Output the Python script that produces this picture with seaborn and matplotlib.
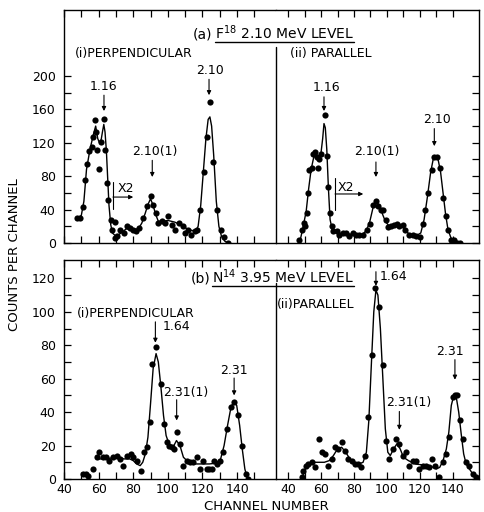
"""
plot.py - gamma-ray spectra of the F18 2.10 MeV and N14 3.95 MeV levels,
perpendicular and parallel geometry, redrawn with seaborn.
"""

import matplotlib
matplotlib.use("Agg")  # non-interactive backend
import matplotlib.pyplot as plt
import matplotlib.ticker as ticker
import seaborn as sns

# ── Data: (a) F18 2.10 MeV level ─────────────────────────────────────────────

F18_PERP_CH = [47.7, 49, 50.8, 52.3, 53.5, 54.6, 56, 57, 58, 58.5, 59.3, 60.4, 61.5, 63.1,
               63.8, 65, 65.6, 67, 68, 69.3, 69.3, 70.6, 72.4, 74.7, 76.2, 78.2, 80, 81.6,
               83.5, 85.8, 87.8, 90.1, 91.6, 93.2, 94.5, 96.5, 98.4, 100.3, 102.2, 104.1,
               106.7, 108.6, 110, 111.8, 113.2, 115.7, 117, 118.6, 120.9, 122.5, 124.4,
               126.3, 128.3, 130.6, 132.5, 134.6]
F18_PERP_COUNTS = [30, 30, 43, 76, 95, 110, 115, 127, 147, 133, 111, 89, 121, 149,
                   111, 72, 51, 27, 16, 25, 6, 8, 16, 12, 20, 18, 16, 14,
                   18, 30, 44, 56, 46, 36, 24, 26, 24, 32, 22, 16,
                   24, 20, 12, 16, 10, 14, 16, 40, 85, 127, 169,
                   97, 40, 16, 7, 0]
F18_PERP_FIT_CH = [48, 50, 51.5, 53, 55, 57, 58.3, 59.5, 60.5, 61.5, 62.3, 63, 63.7, 64.5,
                   65.3, 66, 67, 68, 70, 73, 76, 80, 83, 85, 87, 88.5, 90, 91.5, 93, 94.5,
                   97, 100, 104, 108, 112, 116, 117.5, 119, 120.5, 122, 123.3, 124.3, 125.3,
                   126.5, 128, 129.5, 131, 133, 135]
F18_PERP_FIT = [30, 33, 50, 88, 112, 130, 140, 125, 120, 124, 134, 142, 133, 110,
                75, 45, 22, 12, 8, 12, 17, 16, 17, 24, 36, 46, 53, 45, 34, 26,
                26, 27, 25, 21, 16, 14, 20, 45, 85, 125, 148, 151, 140,
                105, 50, 20, 8, 2, 0]

F18_PAR_CH = [46.8, 48.3, 49.7, 50.3, 51.3, 52.3, 52.9, 54.4, 55.4, 56.4, 57.4, 58, 59, 59.8,
              62.4, 63.8, 64.4, 65.5, 66.5, 67.5, 69.5, 71.1, 73.1, 75.2, 77.2, 79.2, 81.2,
              83.2, 85.6, 87.7, 89.7, 91.3, 93.3, 94.8, 96.2, 97.8, 99.4, 100.8, 102.2,
              104.3, 105.9, 107.5, 109.5, 110.9, 113.5, 115.5, 117.6, 120, 121.6, 123, 125,
              127.1, 128.7, 130.1, 132.1, 134.1, 135.8, 137.2, 138.6, 140.6, 142.6, 144]
F18_PAR_COUNTS = [3, 16, 24, 20, 36, 60, 87, 90, 107, 109, 103, 90, 100, 107,
                  153, 104, 67, 36, 20, 14, 14, 10, 12, 12, 8, 12, 10,
                  10, 10, 16, 23, 46, 50, 44, 40, 39, 28, 19, 20,
                  22, 23, 20, 22, 16, 10, 10, 8, 7, 23, 40, 60,
                  87, 103, 103, 90, 54, 32, 16, 4, 3, 0, 0]
F18_PAR_FIT_CH = [47, 49, 51, 52.5, 54, 55.5, 57, 58.5, 60, 61, 61.8, 62.6, 63.5, 64.5, 65.5,
                  67, 70, 75, 80, 85, 87.5, 89.5, 91.5, 93.3, 95, 97, 99, 101, 104, 107,
                  109.5, 111.5, 114, 118, 120.5, 122.5, 124.5, 126.5, 128, 129.5, 131,
                  132.5, 134, 135.5, 137, 139, 141, 143]
F18_PAR_FIT = [0, 18, 38, 65, 88, 102, 106, 103, 108, 125, 143, 138, 112, 65, 28,
               14, 12, 11, 10, 10, 15, 25, 42, 49, 46, 36, 26, 21, 21, 21,
               19, 14, 10, 9, 12, 28, 55, 85, 100, 104, 100,
               85, 60, 35, 16, 5, 2, 0]

# ── Data: (b) N14 3.95 MeV level ─────────────────────────────────────────────

N14_PERP_CH = [50.8, 52.7, 54, 56.6, 58.9, 60.4, 62.7, 64.3, 66.2, 68.5, 70.5, 72.4, 74.3,
               76.2, 78.6, 80.1, 82, 84.3, 86.2, 87.8, 89.7, 91, 93, 96.1, 97.8, 99.4,
               100.9, 102.3, 103.6, 105.1, 107.1, 109, 110.9, 112.8, 114.7, 117, 118.6,
               120.5, 122.5, 124, 125.4, 126.7, 128.3, 130.2, 131.7, 134, 136.5, 138.3,
               140.8, 142.7, 145.2, 146.5]
N14_PERP_COUNTS = [3, 3, 2, 6, 13, 16, 13, 13, 11, 13, 14, 12, 8,
                   14, 15, 13, 11, 5, 16, 19, 34, 69, 79, 57, 33, 22,
                   20, 19, 18, 28, 21, 8, 11, 10, 10, 13, 6,
                   11, 6, 6, 6, 11, 9, 11, 16, 30, 43, 46,
                   38, 20, 3, 0]
N14_PERP_FIT_CH = [59, 63, 67, 71, 75, 78, 80, 82, 84, 85.5, 87, 88.5, 90, 91.5, 93.2, 94.5,
                   96, 97.5, 99, 101, 103, 105, 107, 109, 112, 116, 120, 124, 128, 130.5,
                   132.5, 134.5, 136.5, 138.2, 139.8, 141.5, 143, 144.5, 146]
N14_PERP_FIT = [12, 12, 12.5, 12.5, 12, 12, 11, 9, 8, 10, 15, 25, 45, 66, 75, 70,
                55, 38, 26, 20, 19, 23, 20, 13, 10, 9, 9, 9, 9.5, 12,
                20, 32, 43, 46.5, 44, 32, 18, 6, 0]

N14_PAR_CH = [48.3, 49.3, 50.9, 52.3, 54.4, 56.4, 58.8, 60.4, 62.4, 64.4, 66.5, 68.5, 70.5,
              72.5, 74.5, 76.5, 78.6, 80.6, 82.6, 84.1, 86.7, 88.7, 90.7, 92.7, 95.4, 97.4,
              99.4, 101.4, 103.5, 105.5, 107.5, 109.5, 111.3, 113.3, 115.6, 117.6, 119.6,
              121.6, 123.6, 125.6, 127.1, 129.1, 131.5, 133.8, 135.8, 137.8, 139.8, 141.2,
              142.6, 144.2, 145.9, 147.9, 149.9, 152, 154]
N14_PAR_COUNTS = [1, 5, 8, 9, 10, 7, 24, 16, 15, 8, 12, 19, 18,
                  22, 17, 12, 11, 9, 9, 7, 14, 37, 74, 114, 103, 68,
                  23, 12, 18, 24, 21, 14, 16, 8, 11, 11, 6,
                  8, 8, 7, 12, 8, 1, 10, 15, 25, 49, 50,
                  50, 35, 24, 10, 8, 3, 1]
N14_PAR_FIT_CH = [48.3, 50, 52.5, 55, 58, 62, 65, 67.5, 70, 72.5, 75, 77.5, 80, 83, 85.5,
                  87.5, 89, 90.5, 92, 93.3, 94.5, 96, 97.5, 99, 100.5, 102, 104, 106, 108,
                  110, 113, 117, 121, 125, 128, 130, 132, 134, 136, 137.5, 139, 140.5, 142,
                  143.5, 145, 146.5, 148, 150, 152, 154]
N14_PAR_FIT = [0, 5, 9, 10, 10, 10, 11, 14, 18, 19, 16, 12, 10, 9, 10,
               16, 35, 68, 100, 113, 110, 90, 60, 30, 16, 14, 18, 21, 18,
               13, 11, 9, 8.5, 8, 7, 6, 7, 11, 18, 28, 44, 50, 49,
               40, 27, 15, 9, 6, 3, 1]

X_TICK_LABELS = [40, 60, 80, 100, 120, 140]

# ── Style ─────────────────────────────────────────────────────────────────────

sns.set_theme(style="ticks")
plt.rcParams["font.family"] = ["DejaVu Sans"]
plt.rcParams.update({
    "axes.edgecolor": "black",
    "axes.linewidth": 1.0,
    "xtick.color": "black",
    "ytick.color": "black",
    "text.color": "black",
})

W, H = 485, 512
FS = 9


def fx(x):
    return x / W


def fy(y):
    return 1 - y / H


def px_box(x0, y0, x1, y1):
    return [fx(x0), fy(y1), (x1 - x0) / W, (y1 - y0) / H]


def draw_spectrum(ax, ch, counts, fit_ch, fit):
    sns.lineplot(x=fit_ch, y=fit, ax=ax, color="black", linewidth=1.0,
                 estimator=None, sort=False)
    sns.scatterplot(x=ch, y=counts, ax=ax, color="black", s=20, linewidth=0, zorder=3)


def style_axes(ax, xlim, ylim, xticks, ymajor, yminor, side, xlabels):
    ax.set_xlim(*xlim)
    ax.set_ylim(*ylim)
    ax.xaxis.set_major_locator(ticker.FixedLocator(X_TICK_LABELS))
    ax.xaxis.set_minor_locator(ticker.FixedLocator([t for t in xticks if t not in X_TICK_LABELS]))
    ax.yaxis.set_major_locator(ticker.FixedLocator(ymajor))
    ax.yaxis.set_minor_locator(ticker.FixedLocator(yminor))
    ax.tick_params(which="both", direction="in", length=5, width=0.9,
                   top=True, bottom=True, labelsize=FS)
    ax.tick_params(axis="x", pad=3)
    ax.tick_params(axis="y", pad=6)
    if side == "left":
        ax.tick_params(which="both", left=True, right=False)
        ax.spines["right"].set_visible(False)
    else:
        ax.tick_params(which="both", left=False, right=True, labelleft=False)
        ax.spines["left"].set_visible(False)
    if not xlabels:
        ax.tick_params(labelbottom=False)
    ax.set_xlabel("")
    ax.set_ylabel("")
    ax.set_facecolor("white")


def peak_label(ax, text, text_xy, tail, tip, ha="center"):
    ax.text(*text_xy, text, ha=ha, va="center", fontsize=FS)
    ax.annotate("", xy=tip, xytext=tail,
                arrowprops=dict(arrowstyle="-|>", color="black", lw=0.8,
                                mutation_scale=6, shrinkA=0, shrinkB=0))


def x2_mark(ax, bar_x, bar_y, text_xy, arrow_y, arrow_x1):
    ax.plot([bar_x, bar_x], bar_y, color="black", lw=0.8)
    ax.text(*text_xy, "X2", ha="center", va="center", fontsize=FS)
    ax.annotate("", xy=(arrow_x1, arrow_y), xytext=(bar_x, arrow_y),
                arrowprops=dict(arrowstyle="-|>", color="black", lw=0.8,
                                mutation_scale=6, shrinkA=0, shrinkB=0))


def underlined_title(fig, tag, text, x_tag, x_text, y_base, y_line):
    fig.text(fx(x_tag), fy(y_base), tag, ha="left", va="baseline", fontsize=FS + 1)
    t = fig.text(fx(x_text), fy(y_base), text, ha="left", va="baseline", fontsize=FS + 1)
    fig.canvas.draw()
    bb = t.get_window_extent(fig.canvas.get_renderer())
    fig.add_artist(plt.Line2D([bb.x0 / W, bb.x1 / W], [fy(y_line), fy(y_line)],
                              color="black", lw=1.0, transform=fig.transFigure))


# ── Figure ────────────────────────────────────────────────────────────────────

fig = plt.figure(figsize=(W / 100, H / 100), dpi=100)
fig.patch.set_facecolor("white")

XLIM_L = (40, 162.5)
XLIM_R = (32.7, 155.8)
TICKS_L = list(range(40, 151, 10))
TICKS_R = list(range(40, 141, 10))

ax_tl = fig.add_axes(px_box(64, 10, 276, 243))
ax_tr = fig.add_axes(px_box(276, 10, 479, 243))
ax_bl = fig.add_axes(px_box(64, 260, 276, 479))
ax_br = fig.add_axes(px_box(276, 260, 479, 479))

draw_spectrum(ax_tl, F18_PERP_CH, F18_PERP_COUNTS, F18_PERP_FIT_CH, F18_PERP_FIT)
draw_spectrum(ax_tr, F18_PAR_CH, F18_PAR_COUNTS, F18_PAR_FIT_CH, F18_PAR_FIT)
draw_spectrum(ax_bl, N14_PERP_CH, N14_PERP_COUNTS, N14_PERP_FIT_CH, N14_PERP_FIT)
draw_spectrum(ax_br, N14_PAR_CH, N14_PAR_COUNTS, N14_PAR_FIT_CH, N14_PAR_FIT)

top_major = list(range(0, 201, 40))
top_minor = list(range(20, 181, 40))
bot_major = list(range(0, 121, 20))
bot_minor = list(range(10, 111, 20))
style_axes(ax_tl, XLIM_L, (0, 279), TICKS_L, top_major, top_minor, "left", False)
style_axes(ax_tr, XLIM_R, (0, 279), TICKS_R, top_major, top_minor, "right", False)
style_axes(ax_bl, XLIM_L, (0, 131), TICKS_L, bot_major, bot_minor, "left", True)
style_axes(ax_br, XLIM_R, (0, 131), TICKS_R, bot_major, bot_minor, "right", True)

# divider between the perpendicular and parallel halves
ax_tr.axvline(XLIM_R[0], ymax=0.84, color="black", lw=1.0, clip_on=False)
ax_br.axvline(XLIM_R[0], ymax=0.895, color="black", lw=1.0, clip_on=False)

# ── Annotations ───────────────────────────────────────────────────────────────

peak_label(ax_tl, "1.16", (63.1, 187), (63.1, 177), (63.1, 158))
peak_label(ax_tl, "2.10", (124.4, 207), (123.8, 196), (123.8, 177))
peak_label(ax_tl, "2.10(1)", (92.6, 109), (91, 99), (91, 79))
x2_mark(ax_tl, 68.3, (41, 73), (75.5, 65), 55, 80)

peak_label(ax_tr, "1.16", (63.4, 186), (61.8, 175), (61.8, 158))
peak_label(ax_tr, "2.10", (130.3, 148), (128.7, 137), (128.7, 116))
peak_label(ax_tr, "2.10(1)", (93.7, 109), (93.3, 97), (93.3, 79))
x2_mark(ax_tr, 68.5, (39.5, 77.5), (75, 67), 58.7, 85.6)

peak_label(ax_bl, "1.64", (97, 91), (92.8, 94), (92.8, 81.5), ha="left")
peak_label(ax_bl, "2.31(1)", (110.5, 51.6), (105.1, 47.4), (105.1, 35))
peak_label(ax_bl, "2.31", (138, 65), (138.3, 60.4), (138.3, 50))

peak_label(ax_br, "1.64", (95.5, 121), (93.3, 124), (93.3, 115.5), ha="left")
peak_label(ax_br, "2.31(1)", (113.5, 46), (107.5, 40.4), (107.5, 29.4))
peak_label(ax_br, "2.31", (138, 76.5), (141.2, 71.4), (141.2, 59.4))

fig.text(fx(75), fy(57), "(i)PERPENDICULAR", ha="left", va="baseline", fontsize=FS)
fig.text(fx(290), fy(57), "(ii) PARALLEL", ha="left", va="baseline", fontsize=FS)
fig.text(fx(77), fy(317), "(i)PERPENDICULAR", ha="left", va="baseline", fontsize=FS)
fig.text(fx(277), fy(308), "(ii)PARALLEL", ha="left", va="baseline", fontsize=FS)

underlined_title(fig, "(a)", r"F$^{18}$ 2.10 MeV LEVEL", 193, 215, 39, 42)
underlined_title(fig, "(b)", r"N$^{14}$ 3.95 MeV LEVEL", 191, 212, 283, 286)

fig.text(fx(15), fy(255), "COUNTS PER CHANNEL", rotation=90, ha="center", va="center",
         fontsize=FS + 0.5)
fig.text(fx(266), fy(506), "CHANNEL NUMBER", ha="center", va="center", fontsize=FS + 0.5)

fig.savefig("out.png", dpi=100, facecolor="white")
